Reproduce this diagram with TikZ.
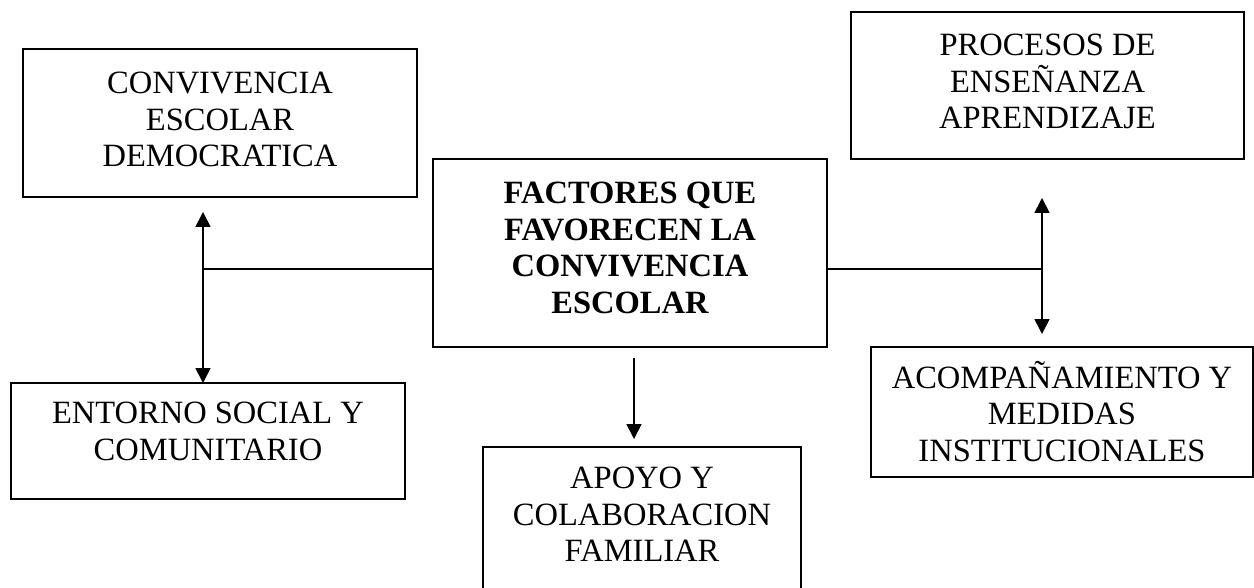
\documentclass[tikz,border=0pt]{standalone}
\usepackage{fontspec}
\setmainfont{Liberation Serif}
\usepackage{xcolor}
\usepackage{tikz}
\usetikzlibrary{calc}
\usetikzlibrary{arrows.meta}

\begin{document}
\begin{tikzpicture}[
		%Global config
		x=0.02cm, y=-0.02cm,
		>={Triangle[length=0.3cm,width=0.3cm]},
		color = black,
		font=\fontsize{18.5}{20.9}\selectfont,
		%Styles
		Box/.style={
			draw,
			line width=1pt,
			inner sep=0pt,
			outer sep=0pt,
		},
		Txt/.style={
			align=center,
			anchor=north,
			inner sep=0pt,
		},
		link/.style={
			line width=0.6pt,
		},
		vlink/.style={
			line width=0.95pt,
		}
		]
		
		\path[use as bounding box, clip] (0,0) rectangle (1254,588);
		
		% Boxes
		\node[Box, minimum width=7.88cm, minimum height=3.76cm,
			label={[Txt, yshift=-0.45cm]north:\bfseries FACTORES QUE\\\bfseries FAVORECEN LA\\\bfseries CONVIVENCIA\\\bfseries ESCOLAR}] (fact) at (630,253) {};
		\node[Box, minimum width=7.88cm, minimum height=2.96cm,
			label={[Txt, yshift=-0.45cm]north:CONVIVENCIA\\ESCOLAR\\DEMOCRATICA}] (conv) at (220,123) {};
		\node[Box, minimum width=7.86cm, minimum height=2.94cm,
			label={[Txt, yshift=-0.43cm]north:PROCESOS DE\\ENSEÑANZA\\APRENDIZAJE}] (proc) at (1047.5,85.5) {};
		\node[Box, minimum width=7.88cm, minimum height=2.32cm,
			label={[Txt, yshift=-0.37cm]north:ENTORNO SOCIAL Y\\COMUNITARIO}] (ento) at (208,441) {};
		\node[Box, minimum width=6.36cm, minimum height=3.0cm,
			label={[Txt, yshift=-0.39cm]north:APOYO Y\\COLABORACION\\FAMILIAR}] (apoy) at (642,522) {};
		\node[Box, minimum width=7.64cm, minimum height=2.6cm,
			label={[Txt, yshift=-0.27cm]north:ACOMPAÑAMIENTO Y\\MEDIDAS\\INSTITUCIONALES}] (acom) at (1062,412) {};
		
		% Junctions
		\coordinate (lj) at (203,269);
		\coordinate (rj) at (1042,269);
		\coordinate (dj) at (634,0);
		
		% Connectors
		\draw[link] (fact.west |- lj) -- (lj);
		\draw[vlink, <->] ([yshift=-0.3cm]conv.south -| lj) -- (ento.north -| lj);
		\draw[link] (fact.east |- rj) -- (rj);
		\draw[vlink, <->] ([yshift=-0.78cm]proc.south -| rj) -- ([yshift=0.26cm]acom.north -| rj);
		\draw[vlink, ->] ([yshift=-0.22cm]fact.south -| dj) -- ([yshift=0.16cm]apoy.north -| dj);
	\end{tikzpicture}
\end{document}
